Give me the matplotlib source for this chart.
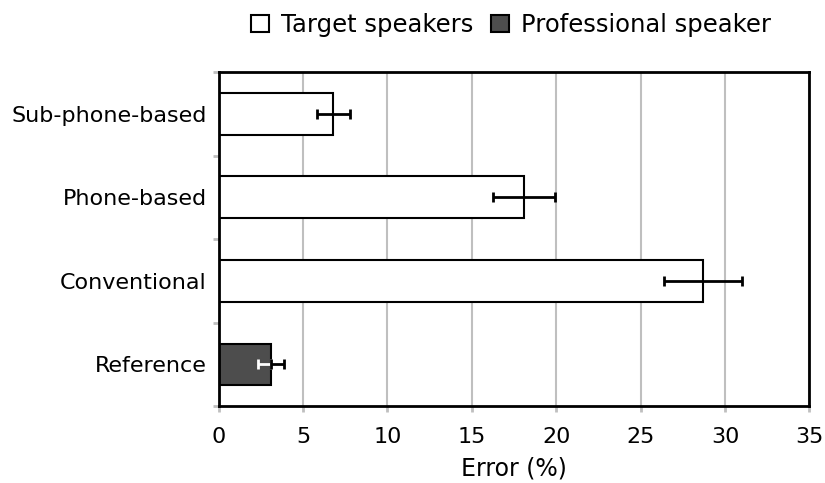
import matplotlib
matplotlib.use("Agg")
import matplotlib.pyplot as plt
import numpy as np
from matplotlib.patches import Patch

categories = ["Reference", "Conventional", "Phone-based", "Sub-phone-based"]
values = [3.1, 28.7, 18.1, 6.8]
errors = [0.75, 2.3, 1.85, 1.0]
groups = ["Professional speaker", "Target speakers", "Target speakers", "Target speakers"]
xticks = [0, 5, 10, 15, 20, 25, 30, 35]

colors = {"Target speakers": "white", "Professional speaker": "#4d4d4d"}

plt.rcParams['font.family'] = ['DejaVu Sans']
fig = plt.figure(figsize=(8.25, 4.83), dpi=100)
ax = fig.add_axes([0.265, 0.159, 0.716, 0.692])

y = np.arange(len(categories))
for i, (v, e, g) in enumerate(zip(values, errors, groups)):
    ax.barh(y[i], v, height=0.5, color=colors[g], edgecolor="black", linewidth=1.5, zorder=3)
    if g == "Professional speaker":
        ax.errorbar(v, y[i], xerr=[[e], [0]], fmt="none", ecolor="white", elinewidth=2,
                    capsize=3.6, capthick=2, zorder=4)
        ax.errorbar(v, y[i], xerr=[[0], [e]], fmt="none", ecolor="black", elinewidth=2,
                    capsize=3.6, capthick=2, zorder=4)
    else:
        ax.errorbar(v, y[i], xerr=e, fmt="none", ecolor="black", elinewidth=2,
                    capsize=3.6, capthick=2, zorder=4)

ax.set_xlim(0, 35)
ax.set_ylim(-0.5, 3.5)
ax.set_xticks(xticks)
ax.set_yticks(y)
ax.set_yticklabels(categories)
ax.set_yticks(np.arange(-0.5, 4.0, 1.0), minor=True)
ax.tick_params(axis="y", which="major", length=0, pad=8.5, labelsize=16)
ax.tick_params(axis="y", which="minor", length=4.5, width=2, color="#bfbfbf")
ax.tick_params(axis="x", which="major", length=4.5, width=2, color="#bfbfbf", labelsize=16, pad=10.5)
ax.xaxis.grid(True, color="#bfbfbf", linewidth=1.5, zorder=0)
ax.set_axisbelow(True)
for s in ax.spines.values():
    s.set_linewidth(2)
    s.set_color("black")
    s.set_zorder(5)
ax.set_xlabel("Error (%)", fontsize=17, labelpad=7)

handles = [Patch(facecolor="white", edgecolor="black", linewidth=1.5, label="Target speakers"),
           Patch(facecolor="#4d4d4d", edgecolor="black", linewidth=1.5, label="Professional speaker")]
fig.legend(handles=handles, loc="center", bbox_to_anchor=(511/825, 1 - 25/483), ncol=2, frameon=False,
           fontsize=17.5, handlelength=0.75, handleheight=0.75, handletextpad=0.5, columnspacing=0.7,
           borderpad=0)

fig.savefig("out.png", dpi=100)
